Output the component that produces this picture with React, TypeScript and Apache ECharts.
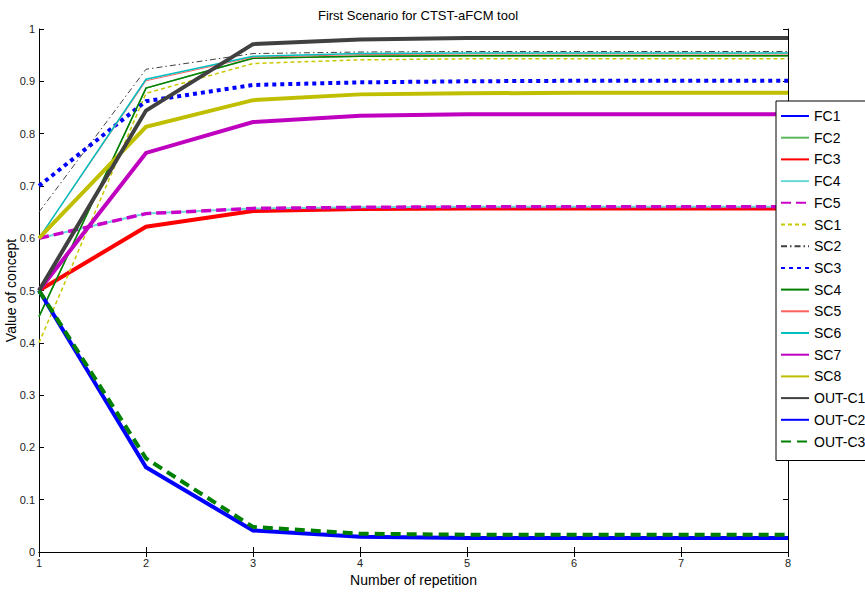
import React, { useEffect, useRef } from "react";
import * as echarts from "echarts";

const repetitions = [1, 2, 3, 4, 5, 6, 7, 8];

const FC1 = [0.5, 0.162, 0.041, 0.029, 0.027, 0.027, 0.027, 0.027];
const FC2 = [0.45, 0.887, 0.944, 0.948, 0.949, 0.949, 0.949, 0.949];
const FC3 = [0.5, 0.622, 0.652, 0.656, 0.657, 0.657, 0.657, 0.657];
const FC4 = [0.6, 0.647, 0.657, 0.659, 0.66, 0.66, 0.66, 0.66];
const FC5 = [0.6, 0.647, 0.657, 0.659, 0.66, 0.66, 0.66, 0.66];
const SC1 = [0.4, 0.877, 0.934, 0.941, 0.943, 0.943, 0.943, 0.943];
const SC2 = [0.65, 0.923, 0.953, 0.956, 0.957, 0.957, 0.957, 0.957];
const SC3 = [0.7, 0.862, 0.893, 0.898, 0.9, 0.901, 0.901, 0.901];
const SC4 = [0.45, 0.887, 0.944, 0.948, 0.949, 0.949, 0.949, 0.949];
const SC5 = [0.6, 0.901, 0.946, 0.951, 0.952, 0.952, 0.952, 0.952];
const SC6 = [0.6, 0.904, 0.948, 0.953, 0.954, 0.954, 0.954, 0.954];
const SC7 = [0.5, 0.763, 0.822, 0.834, 0.837, 0.837, 0.837, 0.837];
const SC8 = [0.6, 0.813, 0.864, 0.875, 0.877, 0.878, 0.878, 0.878];
const OUT_C1 = [0.5, 0.844, 0.971, 0.98, 0.983, 0.983, 0.983, 0.983];
const OUT_C2 = [0.5, 0.162, 0.041, 0.029, 0.027, 0.027, 0.027, 0.027];
const OUT_C3 = [0.5, 0.179, 0.048, 0.035, 0.033, 0.033, 0.033, 0.033];

const FONT = "'Liberation Sans', Arial, Helvetica, sans-serif";

type Spec = { name: string; data: number[]; color: string; width: number; type: any };

const specs: Spec[] = [
  { name: "FC1", data: FC1, color: "#0000ff", width: 1, type: "solid" },
  { name: "FC2", data: FC2, color: "#5cb85c", width: 1.5, type: "solid" },
  { name: "FC3", data: FC3, color: "#ff0000", width: 4, type: "solid" },
  { name: "FC4", data: FC4, color: "#6dd8d8", width: 2, type: "solid" },
  { name: "FC5", data: FC5, color: "#c800c8", width: 3.5, type: [10, 5] },
  { name: "SC1", data: SC1, color: "#c8c800", width: 1.5, type: [4, 3] },
  { name: "SC2", data: SC2, color: "#404040", width: 1, type: [6, 3, 1.5, 3] },
  { name: "SC3", data: SC3, color: "#0000ff", width: 4, type: [4, 4] },
  { name: "SC4", data: SC4, color: "#008000", width: 1.5, type: "solid" },
  { name: "SC5", data: SC5, color: "#ff6060", width: 1, type: "solid" },
  { name: "SC6", data: SC6, color: "#00bfbf", width: 1.5, type: "solid" },
  { name: "SC7", data: SC7, color: "#bf00bf", width: 4, type: "solid" },
  { name: "SC8", data: SC8, color: "#bfbf00", width: 4, type: "solid" },
  { name: "OUT-C1", data: OUT_C1, color: "#404040", width: 4, type: "solid" },
  { name: "OUT-C2", data: OUT_C2, color: "#0000ff", width: 4, type: "solid" },
  { name: "OUT-C3", data: OUT_C3, color: "#008000", width: 4, type: [10, 6] },
];

export default function App() {
  const ref = useRef<HTMLDivElement>(null);
  useEffect(() => {
    if (!ref.current) return;
    const chart = echarts.init(ref.current, undefined, { renderer: "svg" });
    const axisLine = { show: true, lineStyle: { color: "#000", width: 1 } };
    const tick = { show: true, inside: true, length: 5, lineStyle: { color: "#000" } };
    chart.setOption({
      animation: false,
      backgroundColor: "#fff",
      textStyle: { fontFamily: FONT },
      title: {
        text: "First Scenario for CTST-aFCM tool",
        left: 413,
        textAlign: "center",
        top: 4,
        textStyle: { fontFamily: FONT, fontSize: 13, fontWeight: "normal", color: "#000" },
      },
      grid: { left: 39, right: 77, top: 29, bottom: 41, containLabel: false, outerBoundsMode: "none" },
      legend: {
        orient: "vertical",
        left: 776,
        top: 101,
        padding: [8, 6, 12, 4],
        itemWidth: 28,
        itemHeight: 14,
        itemGap: 7.7,
        backgroundColor: "#fff",
        borderColor: "#000",
        borderWidth: 1,
        itemStyle: { opacity: 0, borderWidth: 0 },
        textStyle: { fontFamily: FONT, fontSize: 14, color: "#000", lineHeight: 14 },
        data: specs.map((s) => s.name),
      },
      xAxis: [
        {
          type: "value",
          min: 1,
          max: 8,
          interval: 1,
          position: "bottom",
          name: "Number of repetition",
          nameLocation: "middle",
          nameGap: 21,
          nameMoveOverlap: false,
          nameTextStyle: { fontFamily: FONT, fontSize: 14, color: "#000" },
          axisLine,
          axisTick: tick,
          axisLabel: { fontFamily: FONT, fontSize: 11, color: "#222", margin: 5 },
          splitLine: { show: false },
        },
        {
          type: "value",
          min: 1,
          max: 8,
          interval: 1,
          position: "top",
          axisLine,
          axisTick: tick,
          axisLabel: { show: false },
          splitLine: { show: false },
        },
      ],
      yAxis: [
        {
          type: "value",
          min: 0,
          max: 1,
          interval: 0.1,
          position: "left",
          name: "Value of concept",
          nameLocation: "middle",
          nameGap: 21,
          nameMoveOverlap: false,
          nameRotate: 90,
          nameTextStyle: { fontFamily: FONT, fontSize: 14, color: "#000" },
          axisLine,
          axisTick: tick,
          axisLabel: { fontFamily: FONT, fontSize: 11, color: "#222", margin: 4 },
          splitLine: { show: false },
        },
        {
          type: "value",
          min: 0,
          max: 1,
          interval: 0.1,
          position: "right",
          axisLine,
          axisTick: tick,
          axisLabel: { show: false },
          splitLine: { show: false },
        },
      ],
      series: specs.map((s) => ({
        name: s.name,
        type: "line",
        xAxisIndex: 0,
        yAxisIndex: 0,
        data: repetitions.map((x, i) => [x, s.data[i]]),
        symbol: "none",
        showSymbol: false,
        color: s.color,
        lineStyle: { color: s.color, width: s.width, type: s.type, cap: "butt", join: "miter" },
        itemStyle: { color: s.color },
        emphasis: { disabled: true },
      })),
    });
    return () => chart.dispose();
  }, []);
  return (
    <div
      ref={ref}
      style={{ position: "fixed", left: 0, top: 0, width: 865, height: 593, background: "#fff" }}
    />
  );
}
